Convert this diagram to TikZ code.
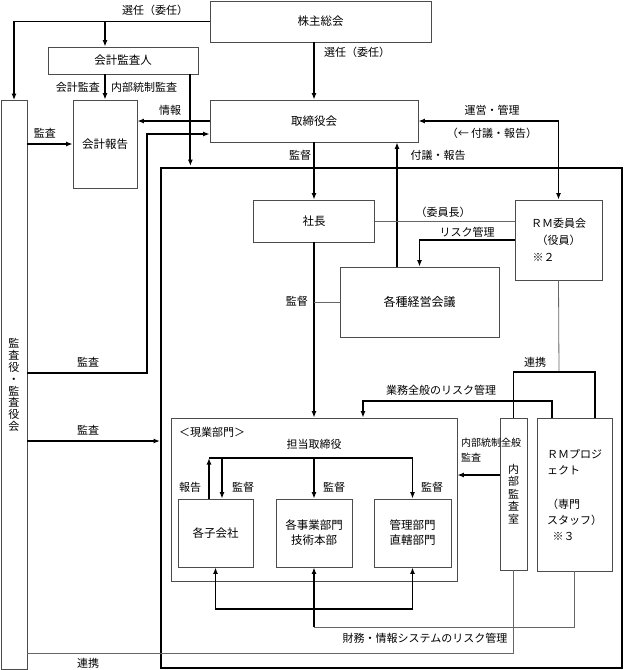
\documentclass[tikz,border=0pt]{standalone}
\usepackage{fontspec}
\newfontfamily\jpfont{Noto Sans CJK JP}
\usetikzlibrary{arrows.meta, positioning, calc}

\begin{document}
\begin{tikzpicture}[
            x=1pt, y=-1pt,
            >={Latex[length=6.5pt, width=5pt]},
            box/.style={rectangle, draw=black!70, line width=0.8pt, fill=white, align=center, inner sep=1pt, font=\jpfont\fontsize{11.5}{15}\selectfont},
            vbox/.style={box, font=\jpfont\fontsize{11}{11.8}\selectfont},
            frame/.style={rectangle, draw, line width=1.9pt, inner sep=0pt},
            lbl/.style={font=\jpfont\fontsize{11}{14}\selectfont, inner sep=1pt},
            smalllbl/.style={font=\jpfont\fontsize{10}{15}\selectfont, inner sep=0pt, align=left},
            conn/.style={line width=1.9pt, ->},
            thickline/.style={line width=1.9pt},
            link/.style={draw=black!60, line width=0.8pt}
        ]
            \useasboundingbox (0,0) rectangle (624,670);

            % Frame
            \node[frame, minimum width=461pt, minimum height=500pt] (company) at (391.5,418) {};

            % Nodes
            \node[box, minimum width=221pt, minimum height=41pt] (kabu) at (320.5,21.5) {株主総会};
            \node[box, minimum width=150pt, minimum height=27pt] (kansanin) at (123,60.5) {会計監査人};
            \node[box, minimum width=64pt, minimum height=88pt] (kaikei) at (105,144) {会計報告};
            \node[box, minimum width=208pt, minimum height=42pt] (torishimari) at (314,121) {取締役会};
            \node[vbox, minimum width=26pt, minimum height=569pt] (kansayaku) at (14,385) {監\\査\\役\\・\\監\\査\\役\\会};
            \node[box, minimum width=121pt, minimum height=42pt] (shacho) at (314,221) {社長};
            \node[box, minimum width=87pt, minimum height=80pt, font=\jpfont\fontsize{11}{17}\selectfont] (rm) at (558.5,240) {ＲＭ委員会\\（役員）\\※２\hspace*{30pt}};
            \node[box, minimum width=159pt, minimum height=70pt, font=\jpfont\fontsize{12}{15}\selectfont] (keiei) at (419.5,302) {各種経営会議};
            \node[box, minimum width=286pt, minimum height=163pt] (genba) at (314,499.5) {};
            \node[lbl, anchor=west] (genbaname) at (178,432) {＜現業部門＞};
            \node[lbl] (tanto) at (314,444) {担当取締役};
            \node[box, minimum width=75pt, minimum height=68pt] (kogaisha) at (215.5,533) {各子会社};
            \node[box, minimum width=76pt, minimum height=68pt] (jigyo) at (314,533) {各事業部門\\技術本部};
            \node[box, minimum width=77pt, minimum height=68pt] (kanri) at (412.5,533) {管理部門\\直轄部門};
            \node[vbox, minimum width=27pt, minimum height=152pt, font=\jpfont\fontsize{11}{12.5}\selectfont] (naibu) at (513.5,494) {内\\部\\監\\査\\室};
            \node[box, minimum width=75pt, minimum height=153pt, align=left, font=\jpfont\fontsize{11}{16}\selectfont] (rmpj) at (574.5,494.5) {ＲＭプロジ\\ェクト\\[18pt]（専門\\スタッフ）\\\hspace*{0.5em}※３};

            % Arrows
            \draw[conn] (kabu.west) -| (kansayaku.north);
            \draw[conn] (kabu.west -| kaikei.north) -- (kansanin.north -| kaikei.north);
            \draw[conn] (kansanin.south -| kaikei.north) -- (kaikei.north);
            \draw[conn] ([xshift=-8pt]kansanin.south east) -- ([xshift=-8pt, yshift=1pt]kansanin.south east |- company.north);
            \draw[conn] (torishimari.west) -- (torishimari.west -| kaikei.east);
            \draw[conn] (kansayaku.east |- kaikei.west) -- (kaikei.west);
            \coordinate (kansapt) at (147,373);
            \draw[conn] (kansayaku.east |- kansapt) -- (kansapt) |- ([yshift=-13pt]torishimari.west);
            \draw[conn] (kansayaku.east |- 0,441) -- (company.west |- 0,441);
            \draw[link] (kansayaku.east |- 0,653) -| (naibu.south);

            \draw[conn] (torishimari.north |- kabu.south) -- (torishimari.north);
            \draw[conn] (torishimari.south) -- (shacho.north);
            \draw[conn] (keiei.north -| 397,0) -- (torishimari.south -| 397,0);
            \draw[thickline, <->] (torishimari.east) -| (rm.north);
            \draw[link] (shacho.east) -- (shacho.east -| rm.west);
            \draw[conn] (rm.west) -| (keiei.north);
            \draw[conn] (shacho.south) -- (genba.north);
            \draw[link] (shacho.south |- keiei.west) -- (keiei.west);

            \coordinate (renkeipt) at (559,372);
            \draw[link] (rm.south) -- (renkeipt);
            \draw[thickline] (naibu.north) |- (595,372) -- (rmpj.north -| 595,0);
            \draw[conn] (rmpj.north -| 552,0) |- (363,401) -- (genba.north -| 363,0);
            \draw[conn] (naibu.west |- 0,475) -- (genba.east |- 0,475);

            \draw[thickline] (209,458) -- (412.5,458);
            \draw[conn] (kogaisha.north -| 209,0) -- (209,458);
            \draw[conn] (222,458) -- (kogaisha.north -| 222,0);
            \draw[conn] (jigyo.north |- 0,458) -- (jigyo.north);
            \draw[conn] (kanri.north |- 0,458) -- (kanri.north);
            \draw[thickline, <->] (kogaisha.south) |- (kanri.south |- 0,609) -- (kanri.south);
            \draw[conn] (jigyo.south |- 0,627) -- (jigyo.south);
            \draw[link] (jigyo.south |- 0,627) -| (rmpj.south);

            % Labels
            \node[lbl] (senninA) at (155,10) {選任（委任）};
            \node[lbl, anchor=east] (kaikeikansa) at (101,87) {会計監査};
            \node[lbl, anchor=west] (naibukansa) at (110,87) {内部統制監査};
            \node[lbl] (joho) at (170,110) {情報};
            \node[lbl] (kansaA) at (45,133) {監査};
            \node[lbl] (kansaB) at (88,362) {監査};
            \node[lbl] (kansaC) at (88,430) {監査};
            \node[lbl] (renkeiA) at (88,663) {連携};
            \node[lbl] (senninB) at (357,52) {選任（委任）};
            \node[lbl] (kantokuA) at (300,155) {監督};
            \node[lbl] (fugiA) at (438,155) {付議・報告};
            \node[lbl] (unei) at (492,110) {運営・管理};
            \node[lbl] (fugiB) at (492,133) {（← 付議・報告）};
            \node[lbl] (iincho) at (443,212) {（委員長）};
            \node[lbl] (riskA) at (467,232) {リスク管理};
            \node[lbl, anchor=east] (kantokuB) at (309,301) {監督};
            \node[lbl] (renkeiB) at (535,362) {連携};
            \node[lbl] (gyomu) at (441,390) {業務全般のリスク管理};
            \node[smalllbl, anchor=north west] (naibutosei) at (461,438) {内部統制全般\\監査};
            \node[lbl] (hokoku) at (190,487) {報告};
            \node[lbl] (kantokuC) at (243,487) {監督};
            \node[lbl] (kantokuD) at (334,487) {監督};
            \node[lbl] (kantokuE) at (432,487) {監督};
            \node[lbl] (zaimu) at (425,638) {財務・情報システムのリスク管理};
        \end{tikzpicture}
\end{document}
